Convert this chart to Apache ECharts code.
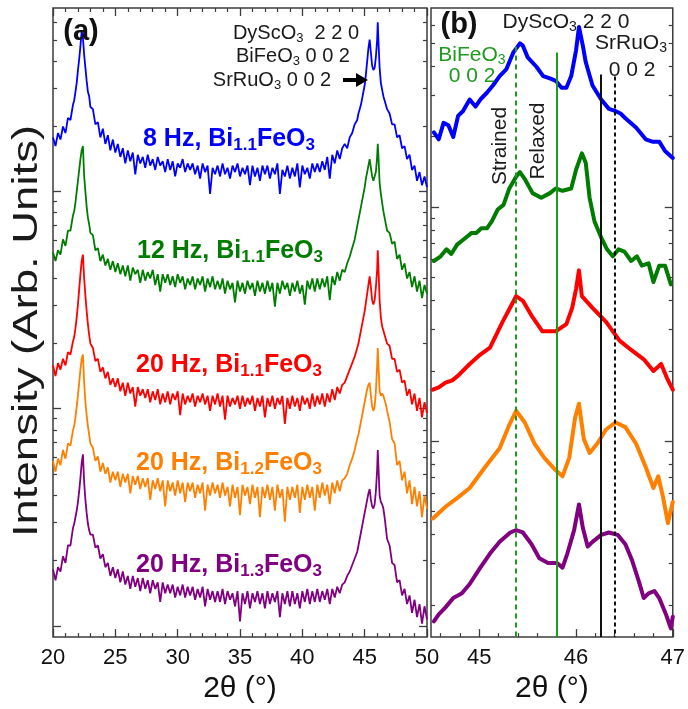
<!DOCTYPE html>
<html>
<head>
<meta charset="utf-8">
<script src="https://cdn.jsdelivr.net/npm/echarts@6/dist/echarts.min.js"></script>
<style>
  html, body { margin: 0; padding: 0; background: #fff; }
  #chart { width: 688px; height: 709px; }
</style>
</head>
<body>
<div id="chart"></div>
<script>
// ---- Survey scans (panel a): 2θ sampling and log10 intensity per film ----
const twoThetaA = [
  20.0,20.2,20.4,20.6,20.8,21.0,21.2,21.4,21.6,
  21.7,21.8,21.9,22.0,22.1,22.2,22.3,22.4,22.5,22.6,22.7,22.8,22.9,23.0,
  23.2,23.4,23.6,23.8,24.0,24.2,24.4,24.6,24.8,25.0,
  25.2,25.4,25.6,25.8,26.0,26.2,26.4,26.6,26.8,27.0,
  27.2,27.4,27.6,27.8,28.0,28.2,28.4,28.6,28.8,29.0,
  29.2,29.4,29.6,29.8,30.0,30.2,30.4,30.6,30.8,31.0,
  31.2,31.4,31.6,31.8,32.0,32.2,32.4,32.6,32.8,33.0,
  33.2,33.4,33.6,33.8,34.0,34.2,34.4,34.6,34.8,35.0,
  35.2,35.4,35.6,35.8,36.0,36.2,36.4,36.6,36.8,37.0,
  37.2,37.4,37.6,37.8,38.0,38.2,38.4,38.6,38.8,39.0,
  39.2,39.4,39.6,39.8,40.0,40.2,40.4,40.6,40.8,41.0,
  41.2,41.4,41.6,41.8,42.0,42.2,42.4,42.6,42.8,43.0,
  43.2,43.4,43.6,43.8,44.0,44.2,44.4,
  44.5,44.6,44.7,44.8,44.9,45.0,45.1,45.2,45.3,45.4,45.5,45.6,45.7,45.8,45.9,
  46.0,46.05,46.1,
  46.2,46.3,46.4,46.5,46.6,46.7,46.8,
  47.0,47.2,47.4,47.6,47.8,48.0,48.2,48.4,48.6,48.8,49.0,49.2,49.4,49.6,49.8,50.0
];

const logI_8Hz_Bi11 = [
  3.25,3.21,3.27,3.24,3.30,3.27,3.34,3.33,3.40,
  3.42,3.46,3.50,3.56,3.61,3.67,3.74,3.71,3.63,3.57,3.51,3.46,3.44,3.39,
  3.38,3.31,3.32,3.25,3.29,3.22,3.26,3.19,3.24,3.18,
  3.22,3.16,3.20,3.13,3.19,3.14,3.18,3.08,3.17,3.13,
  3.16,3.11,3.17,3.12,3.15,3.10,3.16,3.12,3.14,3.09,
  3.15,3.10,3.14,3.07,3.13,3.11,3.15,3.09,3.13,3.10,
  3.13,3.08,3.12,3.06,3.13,3.09,3.12,2.99,3.11,3.08,
  3.12,3.07,3.13,3.08,3.11,3.06,3.12,3.09,3.13,3.07,
  3.11,3.08,3.12,3.03,3.12,3.07,3.11,3.05,3.12,3.08,
  3.12,3.06,3.11,3.08,3.13,2.99,3.10,3.07,3.12,3.06,
  3.11,3.07,3.13,3.02,3.12,3.08,3.11,3.06,3.13,3.09,
  3.13,3.09,3.14,3.10,3.16,3.06,3.17,3.13,3.19,3.15,
  3.20,3.22,3.20,3.25,3.27,3.31,3.33,
  3.36,3.38,3.40,3.43,3.46,3.49,3.54,3.60,3.66,3.70,3.64,3.58,3.56,3.57,3.62,
  3.70,3.78,3.70,
  3.57,3.50,3.47,3.44,3.42,3.40,3.38,
  3.36,3.31,3.31,3.25,3.26,3.20,3.21,3.15,3.17,3.10,3.12,3.05,3.09,3.03,3.07,3.02
];

const logI_12Hz_Bi11 = [
  2.72,2.68,2.73,2.71,2.78,2.75,2.82,2.82,2.89,
  2.91,2.95,3.00,3.05,3.10,3.15,3.19,3.21,3.07,3.00,2.93,2.88,2.85,2.81,
  2.80,2.73,2.74,2.68,2.71,2.66,2.69,2.64,2.68,2.63,
  2.67,2.62,2.66,2.61,2.66,2.59,2.65,2.62,2.64,2.58,
  2.64,2.59,2.63,2.60,2.64,2.57,2.62,2.54,2.62,2.58,
  2.62,2.57,2.61,2.56,2.62,2.58,2.61,2.55,2.60,2.57,
  2.61,2.55,2.60,2.57,2.61,2.54,2.60,2.56,2.61,2.55,
  2.59,2.55,2.60,2.53,2.59,2.55,2.58,2.49,2.59,2.54,
  2.58,2.53,2.59,2.55,2.58,2.52,2.59,2.54,2.58,2.53,
  2.59,2.54,2.58,2.47,2.58,2.53,2.59,2.55,2.58,2.52,
  2.58,2.54,2.59,2.53,2.57,2.48,2.59,2.55,2.60,2.54,
  2.60,2.55,2.60,2.56,2.61,2.50,2.61,2.57,2.63,2.59,
  2.64,2.63,2.67,2.70,2.74,2.78,2.84,
  2.87,2.90,2.93,2.96,2.99,3.02,3.06,3.09,3.12,3.15,3.11,3.07,3.05,3.05,3.09,
  3.16,3.22,3.17,
  3.04,2.99,2.95,2.91,2.88,2.85,2.82,
  2.81,2.76,2.77,2.69,2.71,2.64,2.67,2.60,2.63,2.56,2.61,2.54,2.59,2.51,2.57,2.53
];

const logI_20Hz_Bi11 = [
  2.20,2.15,2.21,2.18,2.23,2.20,2.26,2.25,2.31,
  2.33,2.37,2.42,2.48,2.55,2.62,2.68,2.71,2.60,2.52,2.45,2.39,2.34,2.30,
  2.28,2.22,2.23,2.17,2.19,2.14,2.17,2.11,2.14,2.10,
  2.14,2.08,2.12,2.06,2.12,2.07,2.10,2.01,2.10,2.06,
  2.09,2.05,2.09,2.03,2.08,2.04,2.09,2.02,2.07,2.03,
  2.08,2.02,2.07,2.04,2.08,1.97,2.07,2.02,2.06,2.03,
  2.07,2.01,2.06,2.03,2.07,2.02,2.06,1.99,2.06,2.02,
  2.07,2.01,2.06,1.95,2.06,2.01,2.05,2.02,2.06,2.00,
  2.06,2.01,2.05,2.02,2.06,1.99,2.05,2.01,2.06,1.96,
  2.05,2.01,2.06,2.00,2.05,2.02,2.06,1.93,2.05,2.00,
  2.06,2.01,2.05,1.99,2.06,2.02,2.05,2.00,2.07,2.01,
  2.06,2.02,2.07,2.01,2.07,2.03,2.09,2.04,2.10,2.07,
  2.11,2.12,2.15,2.18,2.21,2.24,2.28,
  2.30,2.33,2.36,2.39,2.42,2.45,2.49,2.53,2.57,2.61,2.56,2.50,2.48,2.50,2.56,
  2.64,2.73,2.66,
  2.50,2.42,2.38,2.36,2.34,2.32,2.30,
  2.29,2.23,2.23,2.17,2.18,2.12,2.13,2.06,2.09,2.02,2.07,1.99,2.05,1.96,2.03,1.98
];

const logI_20Hz_Bi12 = [
  1.76,1.71,1.77,1.74,1.81,1.77,1.84,1.83,1.90,
  1.92,1.96,2.01,2.06,2.12,2.18,2.23,2.25,2.12,2.03,1.97,1.92,1.88,1.84,
  1.82,1.76,1.78,1.71,1.75,1.70,1.73,1.66,1.71,1.67,
  1.71,1.64,1.70,1.66,1.70,1.61,1.69,1.65,1.69,1.63,
  1.68,1.64,1.68,1.58,1.67,1.63,1.68,1.62,1.67,1.55,
  1.67,1.62,1.66,1.60,1.67,1.61,1.66,1.57,1.66,1.62,
  1.66,1.59,1.65,1.61,1.66,1.53,1.65,1.60,1.66,1.61,
  1.65,1.59,1.66,1.60,1.64,1.55,1.65,1.59,1.64,1.51,
  1.65,1.60,1.64,1.56,1.65,1.59,1.64,1.50,1.64,1.59,
  1.65,1.58,1.64,1.53,1.65,1.59,1.63,1.48,1.64,1.58,
  1.64,1.59,1.65,1.52,1.64,1.58,1.65,1.59,1.64,1.53,
  1.65,1.59,1.66,1.60,1.65,1.56,1.66,1.61,1.67,1.62,
  1.67,1.68,1.70,1.74,1.77,1.81,1.86,
  1.88,1.91,1.94,1.97,2.00,2.03,2.06,2.09,2.11,2.12,2.06,2.01,1.99,2.01,2.08,
  2.20,2.28,2.21,
  2.08,2.06,2.07,2.06,2.04,2.02,1.99,
  1.94,1.86,1.84,1.74,1.76,1.67,1.71,1.61,1.67,1.56,1.64,1.55,1.62,1.50,1.60,1.54
];

const logI_20Hz_Bi13 = [
  1.26,1.21,1.27,1.25,1.32,1.29,1.37,1.37,1.45,
  1.47,1.50,1.53,1.57,1.62,1.68,1.75,1.79,1.66,1.58,1.52,1.47,1.44,1.42,
  1.42,1.36,1.37,1.31,1.33,1.27,1.29,1.23,1.27,1.22,
  1.26,1.20,1.25,1.19,1.23,1.17,1.23,1.18,1.22,1.16,
  1.22,1.17,1.21,1.15,1.21,1.17,1.20,1.11,1.20,1.15,
  1.19,1.15,1.19,1.13,1.18,1.14,1.19,1.13,1.18,1.14,
  1.18,1.12,1.17,1.13,1.18,1.09,1.17,1.12,1.16,1.11,
  1.16,1.11,1.17,1.10,1.16,1.12,1.15,1.09,1.16,1.02,
  1.15,1.10,1.16,1.08,1.15,1.11,1.16,1.10,1.15,1.08,
  1.16,1.10,1.15,1.11,1.16,1.04,1.15,1.10,1.16,1.09,
  1.16,1.10,1.15,1.08,1.16,1.11,1.17,1.10,1.16,1.11,
  1.17,1.11,1.16,1.12,1.17,1.10,1.17,1.13,1.18,1.15,
  1.19,1.20,1.23,1.25,1.28,1.31,1.34,
  1.37,1.40,1.43,1.46,1.49,1.52,1.55,1.58,1.61,1.63,1.58,1.55,1.54,1.56,1.62,
  1.72,1.81,1.74,
  1.60,1.57,1.56,1.54,1.50,1.45,1.40,
  1.37,1.29,1.28,1.20,1.21,1.14,1.17,1.10,1.14,1.06,1.12,1.04,1.10,1.01,1.09,1.03
];

// ---- Fine scans around the 002 reflections (panel b): [2θ, log10 intensity] ----
const fine8Hz_Bi11 = [
  [44.53,3.32],[44.58,3.29],[44.63,3.36],[44.68,3.35],[44.73,3.30],[44.78,3.39],[44.83,3.41],
  [44.90,3.46],[44.96,3.43],[45.01,3.46],[45.08,3.49],[45.14,3.52],[45.21,3.56],[45.28,3.59],
  [45.35,3.66],[45.42,3.70],[45.45,3.69],[45.50,3.64],[45.59,3.60],[45.66,3.56],[45.73,3.55],
  [45.79,3.54],[45.85,3.51],[45.90,3.51],[45.95,3.56],[46.00,3.67],[46.03,3.77],[46.07,3.69],
  [46.10,3.62],[46.17,3.52],[46.26,3.46],[46.34,3.42],[46.41,3.41],[46.46,3.40],[46.51,3.38],
  [46.62,3.34],[46.72,3.29],[46.79,3.28],[46.86,3.28],[46.92,3.24],[47.00,3.21]
];
const fine12Hz_Bi11 = [
  [44.53,2.77],[44.60,2.79],[44.66,2.82],[44.71,2.80],[44.77,2.84],[44.83,2.86],[44.92,2.89],
  [44.97,2.89],[45.02,2.91],[45.08,2.91],[45.13,2.94],[45.19,2.99],[45.25,3.01],[45.31,3.08],
  [45.38,3.13],[45.42,3.15],[45.47,3.12],[45.55,3.06],[45.64,3.04],[45.73,3.06],[45.79,3.08],
  [45.86,3.07],[45.95,3.08],[46.00,3.16],[46.06,3.23],[46.10,3.19],[46.14,3.04],[46.19,2.94],
  [46.26,2.87],[46.32,2.82],[46.38,2.79],[46.44,2.82],[46.50,2.81],[46.57,2.77],[46.63,2.79],
  [46.68,2.75],[46.75,2.76],[46.80,2.68],[46.86,2.75],[46.92,2.75],[46.98,2.67]
];
const fine20Hz_Bi11 = [
  [44.52,2.22],[44.58,2.23],[44.65,2.25],[44.72,2.26],[44.78,2.28],[44.90,2.33],[45.01,2.37],
  [45.11,2.40],[45.24,2.51],[45.33,2.58],[45.38,2.62],[45.45,2.60],[45.55,2.53],[45.65,2.47],
  [45.73,2.47],[45.79,2.47],[45.90,2.50],[45.96,2.57],[46.00,2.65],[46.03,2.73],[46.06,2.62],
  [46.17,2.57],[46.31,2.51],[46.45,2.43],[46.57,2.39],[46.70,2.35],[46.80,2.30],[46.88,2.33],
  [46.94,2.27],[47.00,2.22]
];
const fine20Hz_Bi12 = [
  [44.52,1.67],[44.65,1.72],[44.78,1.76],[44.90,1.80],[45.06,1.89],[45.21,1.97],[45.31,2.07],
  [45.38,2.13],[45.47,2.08],[45.57,1.99],[45.67,1.93],[45.78,1.88],[45.86,1.85],[45.93,1.93],
  [45.99,2.10],[46.03,2.16],[46.08,2.01],[46.14,1.95],[46.22,1.99],[46.31,2.05],[46.41,2.08],
  [46.51,2.06],[46.62,1.99],[46.72,1.89],[46.80,1.80],[46.85,1.85],[46.90,1.76],[46.95,1.65],
  [47.00,1.74]
];
const fine20Hz_Bi13 = [
  [44.53,1.23],[44.58,1.26],[44.65,1.29],[44.73,1.33],[44.82,1.35],[44.90,1.39],[45.01,1.46],
  [45.11,1.52],[45.21,1.57],[45.32,1.61],[45.38,1.62],[45.45,1.61],[45.54,1.56],[45.62,1.50],
  [45.71,1.48],[45.80,1.48],[45.86,1.46],[45.91,1.52],[45.98,1.62],[46.03,1.73],[46.07,1.63],
  [46.12,1.55],[46.17,1.57],[46.26,1.60],[46.34,1.61],[46.43,1.60],[46.51,1.56],[46.58,1.49],
  [46.65,1.40],[46.70,1.33],[46.75,1.35],[46.81,1.36],[46.86,1.33],[46.93,1.26],[46.98,1.20],
  [47.00,1.25]
];

// Reference peak positions (2θ) and the log10 level where each guide line starts
const bfoStrained = 45.38, bfoRelaxed = 45.80, sroBulk = 46.26, sroFilm = 46.40;
const guideTop = { strained: 3.686, relaxed: 3.661, sroBulk: 3.567, sroFilm: 3.558 };

// Axis ranges (log10 units) and tick labels
const yRangeA = [0.948, 3.846];
const yRangeB = [1.163, 3.851];
const xLabelsB = [45, 46, 47];
const xMinorB = [44.6, 44.8, 45.2, 45.4, 45.6, 45.8, 46.2, 46.4, 46.6, 46.8];

const colors = { c8: '#0000ff', c12: '#007d00', c20a: '#ff0000', c20b: '#ff8000', c20c: '#800080' };
const FF = '"Liberation Sans", Arial, Helvetica, sans-serif';
const AX = '#3c3c3c';

// decade / sub-decade tick positions of a logarithmic intensity scale
function logTicks(lo, hi) {
  const major = [], minor = [];
  for (let n = Math.floor(lo); n <= Math.ceil(hi); n++) {
    for (let k = 1; k <= 9; k++) {
      const v = n + Math.log10(k);
      if (v <= lo + 0.012 || v >= hi - 0.012) continue;
      (k === 1 ? major : minor).push(+v.toFixed(4));
    }
  }
  return { major, minor };
}
const ticksA = logTicks(yRangeA[0], yRangeA[1]);
const ticksB = logTicks(yRangeB[0], yRangeB[1]);

function yAxes(grid, range, ticks) {
  const base = {
    gridIndex: grid, type: 'value', min: range[0], max: range[1],
    axisLine: { show: false, onZero: false }, axisLabel: { show: false }, splitLine: { show: false }
  };
  const out = [];
  ['left', 'right'].forEach(pos => {
    out.push(Object.assign({}, base, { position: pos,
      axisTick: { inside: true, length: 8, customValues: ticks.major, lineStyle: { color: AX, width: 1.3 } } }));
    out.push(Object.assign({}, base, { position: pos,
      axisTick: { inside: true, length: 4, customValues: ticks.minor, lineStyle: { color: AX, width: 1.2 } } }));
  });
  return out;
}

const xNameStyle = { fontSize: 30, color: '#111', fontFamily: FF };
const xLabelStyle = { fontSize: 22, color: '#111', fontFamily: FF, margin: 10 };

const xAxis = [
  { gridIndex: 0, type: 'value', min: 20, max: 50, interval: 5, position: 'bottom',
    axisLine: { show: false, onZero: false },
    axisTick: { inside: true, length: 8, lineStyle: { color: AX, width: 1.3 } },
    minorTick: { show: true, splitNumber: 5, length: 4, lineStyle: { color: AX, width: 1.2 } },
    axisLabel: xLabelStyle, splitLine: { show: false },
    name: '2θ (°)', nameLocation: 'middle', nameGap: 36, nameTextStyle: xNameStyle },
  { gridIndex: 0, type: 'value', min: 20, max: 50, interval: 5, position: 'top',
    axisLine: { show: false, onZero: false },
    axisTick: { inside: true, length: 8, lineStyle: { color: AX, width: 1.3 } },
    minorTick: { show: true, splitNumber: 5, length: 4, lineStyle: { color: AX, width: 1.2 } },
    axisLabel: { show: false }, splitLine: { show: false } },
  { gridIndex: 1, type: 'value', min: 44.5, max: 47, position: 'bottom',
    axisLine: { show: false, onZero: false },
    axisTick: { inside: true, length: 8, customValues: xLabelsB, lineStyle: { color: AX, width: 1.3 } },
    axisLabel: Object.assign({ customValues: xLabelsB }, xLabelStyle), splitLine: { show: false },
    name: '2θ (°)', nameLocation: 'middle', nameGap: 36, nameTextStyle: xNameStyle },
  { gridIndex: 1, type: 'value', min: 44.5, max: 47, position: 'bottom',
    axisLine: { show: false, onZero: false },
    axisTick: { inside: true, length: 4, customValues: xMinorB, lineStyle: { color: AX, width: 1.2 } },
    axisLabel: { show: false }, splitLine: { show: false } }
];

const yAxis = yAxes(0, yRangeA, ticksA).concat(yAxes(1, yRangeB, ticksB));

function surveySeries(vals, color) {
  return { type: 'line', xAxisIndex: 0, yAxisIndex: 0, showSymbol: false, animation: false,
    data: twoThetaA.map((t, i) => [t, vals[i]]),
    lineStyle: { color: color, width: 1.8, join: 'bevel' }, itemStyle: { color: color }, z: 3 };
}
function fineSeries(pairs, color) {
  return { type: 'line', xAxisIndex: 2, yAxisIndex: 4, showSymbol: false, animation: false,
    data: pairs, lineStyle: { color: color, width: 4, join: 'round', cap: 'round' },
    itemStyle: { color: color }, z: 3 };
}

const guide = (x, top, color, type) => [
  { coord: [x, top], lineStyle: { color: color, width: 2, type: type } },
  { coord: [x, yRangeB[0]] }
];

const series = [
  surveySeries(logI_8Hz_Bi11, colors.c8),
  surveySeries(logI_12Hz_Bi11, colors.c12),
  surveySeries(logI_20Hz_Bi11, colors.c20a),
  surveySeries(logI_20Hz_Bi12, colors.c20b),
  surveySeries(logI_20Hz_Bi13, colors.c20c),
  fineSeries(fine8Hz_Bi11, colors.c8),
  fineSeries(fine12Hz_Bi11, colors.c12),
  fineSeries(fine20Hz_Bi11, colors.c20a),
  fineSeries(fine20Hz_Bi12, colors.c20b),
  Object.assign(fineSeries(fine20Hz_Bi13, colors.c20c), {
    markLine: {
      silent: true, animation: false, symbol: ['none', 'none'], label: { show: false },
      data: [
        guide(bfoStrained, guideTop.strained, '#1f9a1f', [5, 4]),
        guide(bfoRelaxed, guideTop.relaxed, '#1f9a1f', 'solid'),
        guide(sroBulk, guideTop.sroBulk, '#111', 'solid'),
        guide(sroFilm, guideTop.sroFilm, '#111', [4, 3])
      ]
    }
  })
];

// ---- Text annotations ----
function chemText(x, y, str, size, color, bold, extra) {
  const w = bold ? 'bold' : 'normal';
  const sub = Math.round(size * 0.66);
  return Object.assign({
    type: 'text', x: x, y: y, z: 50, silent: true,
    style: {
      text: str, fill: color, fontSize: size, fontFamily: FF, fontWeight: w,
      align: 'center', verticalAlign: 'middle', textAlign: 'center', textVerticalAlign: 'middle',
      rich: {
        n: { fill: color, fontSize: size, fontFamily: FF, fontWeight: w, lineHeight: Math.round(size * 1.15) },
        s: { fill: color, fontSize: sub, fontFamily: FF, fontWeight: w, lineHeight: Math.round(size * 0.56), verticalAlign: 'bottom' }
      }
    }
  }, extra || {});
}

const graphic = [
  chemText(81, 32, '(a)', 29, '#111', true),
  chemText(459, 25, '(b)', 29, '#111', true),
  chemText(296, 33, '{n|DyScO}{s|3}{n|  2 2 0}', 20, '#1a1a1a', false),
  chemText(293, 56, '{n|BiFeO}{s|3}{n| 0 0 2}', 20, '#1a1a1a', false),
  chemText(272, 80, '{n|SrRuO}{s|3}{n| 0 0 2}', 20, '#1a1a1a', false),
  { type: 'polyline', z: 50, silent: true, shape: { points: [[343, 80], [360, 80]] },
    style: { stroke: '#000', lineWidth: 4 } },
  { type: 'polygon', z: 50, silent: true, shape: { points: [[356, 73], [368, 80], [356, 87]] },
    style: { fill: '#000' } },
  chemText(229, 139, '{n|8 Hz, Bi}{s|1.1}{n|FeO}{s|3}', 25, colors.c8, true),
  chemText(230, 251, '{n|12 Hz, Bi}{s|1.1}{n|FeO}{s|3}', 25, colors.c12, true),
  chemText(229, 365, '{n|20 Hz, Bi}{s|1.1}{n|FeO}{s|3}', 25, colors.c20a, true),
  chemText(229, 463, '{n|20 Hz, Bi}{s|1.2}{n|FeO}{s|3}', 25, colors.c20b, true),
  chemText(229, 565, '{n|20 Hz, Bi}{s|1.3}{n|FeO}{s|3}', 25, colors.c20c, true),
  chemText(566, 22, '{n|DyScO}{s|3}{n| 2 2 0}', 21, '#1a1a1a', false),
  chemText(472, 55, '{n|BiFeO}{s|3}', 21, '#1f9a1f', false),
  chemText(472, 76, '{n|0 0 2}', 21, '#1f9a1f', false),
  chemText(631, 43, '{n|SrRuO}{s|3}', 21, '#1a1a1a', false),
  chemText(632, 70, '{n|0 0 2}', 21, '#1a1a1a', false),
  chemText(500, 146, '{n|Strained}', 21, '#1a1a1a', false, { rotation: Math.PI / 2 }),
  chemText(538, 141, '{n|Relaxed}', 21, '#1a1a1a', false, { rotation: Math.PI / 2 }),
  chemText(27, 331, '{n|Intensity (Arb. Units)}', 35, '#1a1a1a', false, { rotation: Math.PI / 2, scaleX: 1.3 })
];

const option = {
  animation: false,
  backgroundColor: '#ffffff',
  textStyle: { fontFamily: FF },
  grid: [
    { left: 53, top: 8, width: 374, height: 632, show: true, borderColor: AX, borderWidth: 1.5, backgroundColor: 'transparent' },
    { left: 431, top: 8, width: 243, height: 632, show: true, borderColor: AX, borderWidth: 1.5, backgroundColor: 'transparent' }
  ],
  xAxis: xAxis,
  yAxis: yAxis,
  series: series,
  graphic: graphic
};

const chart = echarts.init(document.getElementById('chart'), null, { renderer: 'canvas' });
chart.setOption(option);
</script>
</body>
</html>
